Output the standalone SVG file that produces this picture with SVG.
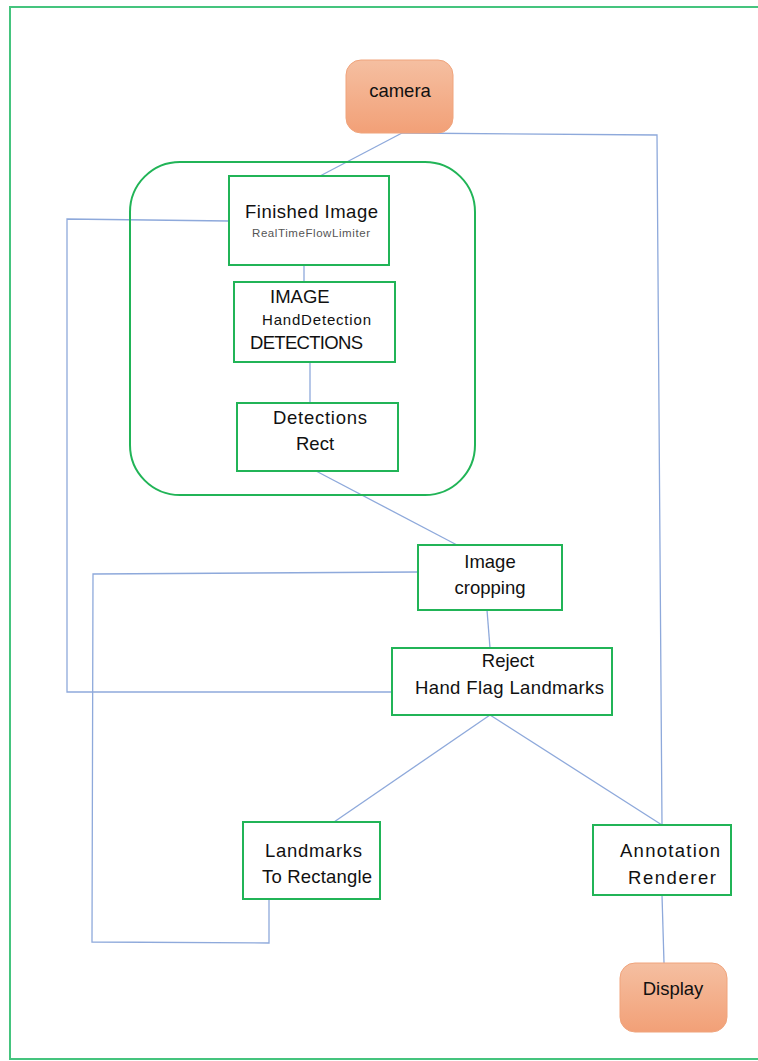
<svg xmlns="http://www.w3.org/2000/svg" width="758" height="1061" viewBox="0 0 758 1061">
<defs>
<linearGradient id="og" x1="0" y1="0" x2="0" y2="1">
<stop offset="0" stop-color="#F5BFA1"/>
<stop offset="1" stop-color="#F2A077"/>
</linearGradient>
<style>
.box{fill:#fff;stroke:#21B457;stroke-width:2}
.term{fill:url(#og);stroke:#F0A47C;stroke-width:1}
.grp{fill:none;stroke:#21B457;stroke-width:2}
.c{fill:none;stroke:#8EA9DB;stroke-width:1.3}
text{font-family:"Liberation Sans",Arial,sans-serif;fill:#111;font-size:18.5px}
.sm{font-size:11.5px;fill:#555}
.md{font-size:15px}
</style>
</defs>
<rect width="758" height="1061" fill="#fff"/>
<rect x="10" y="7" width="760" height="1052" fill="none" stroke="#45C47E" stroke-width="2"/>
<g id="connectors">
<path class="c" d="M402,133 L657,135 L662,825"/>
<path class="c" d="M402,133 L320,176"/>
<path class="c" d="M229,221 L67,219 L67,692 L392,692"/>
<path class="c" d="M304,265 L304,282"/>
<path class="c" d="M310,362 L310,403"/>
<path class="c" d="M316,471 L457,545"/>
<path class="c" d="M418,572 L93,574 L92,942 L269,943 L269,900"/>
<path class="c" d="M487,610 L490,648"/>
<path class="c" d="M490,715 L334,822"/>
<path class="c" d="M490,715 L662,825"/>
<path class="c" d="M662,895 L664,963"/>
</g>
<g id="group">
<rect class="grp" x="130" y="162" width="345" height="333" rx="50" ry="50"/>
</g>
<g id="camera">
<rect class="term" x="346" y="60" width="107" height="73" rx="15" ry="15"/>
<text x="400" y="97" text-anchor="middle">camera</text>
</g>
<g id="finished-image">
<rect class="box" x="229" y="176" width="160" height="89"/>
<text x="245" y="218" textLength="133">Finished Image</text>
<text class="sm" x="252" y="237" textLength="118">RealTimeFlowLimiter</text>
</g>
<g id="hand-detection">
<rect class="box" x="234" y="282" width="161" height="80"/>
<text x="270" y="303">IMAGE</text>
<text class="md" x="262" y="325" textLength="109">HandDetection</text>
<text x="250" y="349" textLength="113">DETECTIONS</text>
</g>
<g id="detections-rect">
<rect class="box" x="237" y="403" width="161" height="68"/>
<text x="273" y="424" textLength="94">Detections</text>
<text x="296" y="450">Rect</text>
</g>
<g id="image-cropping">
<rect class="box" x="418" y="545" width="144" height="65"/>
<text x="490" y="568" text-anchor="middle">Image</text>
<text x="490" y="594" text-anchor="middle">cropping</text>
</g>
<g id="reject">
<rect class="box" x="392" y="648" width="220" height="67"/>
<text x="508" y="667" text-anchor="middle">Reject</text>
<text x="415" y="694" textLength="189">Hand Flag Landmarks</text>
</g>
<g id="landmarks">
<rect class="box" x="243" y="822" width="137" height="77"/>
<text x="265" y="857" textLength="97">Landmarks</text>
<text x="262" y="883" textLength="110">To Rectangle</text>
</g>
<g id="annotation">
<rect class="box" x="593" y="825" width="138" height="70"/>
<text x="620" y="857" textLength="100">Annotation</text>
<text x="628" y="884" textLength="88">Renderer</text>
</g>
<g id="display">
<rect class="term" x="620" y="963" width="107" height="69" rx="15" ry="15"/>
<text x="673" y="995" text-anchor="middle">Display</text>
</g>
</svg>
